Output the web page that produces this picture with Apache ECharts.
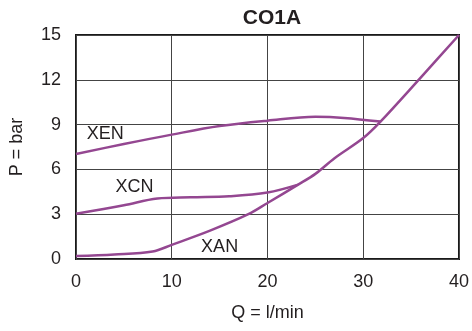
<!DOCTYPE html>
<html><head><meta charset="utf-8">
<script src="https://cdn.jsdelivr.net/npm/echarts@6/dist/echarts.min.js"></script>
<style>html,body{margin:0;padding:0;background:#fff}#c{width:472px;height:331px}</style>
</head><body><div id="c"></div>
<script>
const xTicks = [0, 10, 20, 30, 40];
const yTicks = [0, 3, 6, 9, 12, 15];
const xanQ = [0, 4, 8, 10, 14, 18, 20, 23.2, 25, 27, 30, 31.8, 36, 40];
const xanP = [0.2, 0.3, 0.5, 0.95, 1.9, 3.0, 3.75, 4.98, 5.7, 6.75, 8.1, 9.2, 12.15, 15];
const xenQ = [0, 5, 10, 15, 20, 25, 28, 31.8];
const xenP = [7.03, 7.7, 8.33, 8.9, 9.26, 9.52, 9.45, 9.2];
const xcnQ = [0, 5, 8.5, 12, 16, 20, 23.2];
const xcnP = [3.03, 3.6, 4.05, 4.13, 4.2, 4.45, 4.98];
const labelNames = ['XEN', 'XCN', 'XAN'];
const labelQ = [3.05, 6.1, 15.0];
const labelP = [8.37, 4.8, 0.78];

const zip = (a, b) => a.map((v, i) => [v, b[i]]);
const color = '#944791';
const txt = '#231f20';
const font = '"Liberation Sans", Arial, sans-serif';
const chart = echarts.init(document.getElementById('c'));
const lineSeries = (q, p) => ({
  type: 'line', data: zip(q, p), smooth: 0.35, showSymbol: false, symbol: 'none',
  lineStyle: { color: color, width: 2.5 }, z: 3
});
chart.setOption({
  animation: false,
  textStyle: { fontFamily: font },
  title: { text: 'CO1A', left: 267, top: 3, textAlign: 'center',
    textStyle: { fontFamily: font, fontWeight: 'bold', fontSize: 21, color: txt } },
  grid: { left: 73, right: 12, top: 35, bottom: 72, show: true, borderColor: '#1a1a1a', borderWidth: 2 },
  xAxis: { type: 'value', min: xTicks[0], max: xTicks[xTicks.length - 1], interval: 10,
    name: 'Q = l/min', nameLocation: 'middle', nameGap: 45,
    nameTextStyle: { fontFamily: font, fontSize: 18, color: txt },
    axisLine: { show: false }, axisTick: { show: false },
    axisLabel: { fontFamily: font, fontSize: 18, color: txt, margin: 14 },
    splitLine: { show: true, lineStyle: { color: '#444', width: 1 } } },
  yAxis: { type: 'value', min: yTicks[0], max: yTicks[yTicks.length - 1], interval: 3,
    name: 'P = bar', nameLocation: 'middle', nameGap: 50, nameRotate: 90,
    nameTextStyle: { fontFamily: font, fontSize: 18, color: txt },
    axisLine: { show: false }, axisTick: { show: false },
    axisLabel: { fontFamily: font, fontSize: 18, color: txt, margin: 15 },
    splitLine: { show: true, lineStyle: { color: '#444', width: 1 } } },
  series: [
    lineSeries(xanQ, xanP),
    lineSeries(xenQ, xenP),
    lineSeries(xcnQ, xcnP),
    { type: 'scatter', symbolSize: 0, silent: true, z: 5,
      itemStyle: { opacity: 1 },
      data: labelNames.map((n, i) => ({ value: [labelQ[i], labelP[i]], name: n })),
      label: { show: true, position: 'inside', formatter: p => p.name, opacity: 1,
        fontFamily: font, fontSize: 18, color: txt } }
  ]
});
</script></body></html>
